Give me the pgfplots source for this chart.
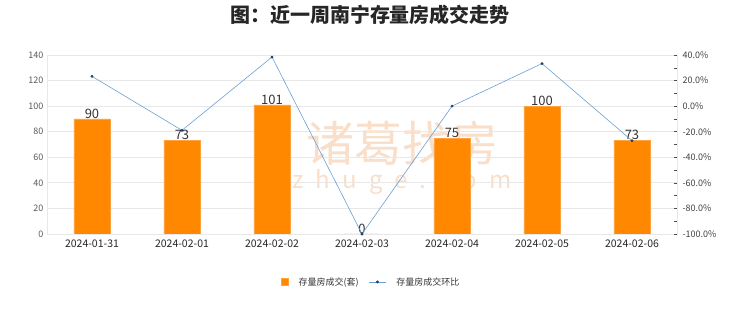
\documentclass[border=0pt]{standalone}
\usepackage{fontspec}
\setmainfont{Noto Sans CJK SC}
\usepackage{pgfplots}
\pgfplotsset{compat=1.18}
\definecolor{barc}{HTML}{FF8800}
\definecolor{barEdge}{HTML}{FFA340}
\definecolor{linec}{HTML}{6A9FD4}
\definecolor{markc}{HTML}{1F3F6F}
\definecolor{gridc}{HTML}{E8E8E8}
\definecolor{wm}{HTML}{F9DEC9}
\begin{document}
\begin{tikzpicture}[x=1pt,y=1pt]
% watermark (picture frame: origin at the axis' lower-left corner)
\node[font=\fontsize{48}{50}\selectfont, text=wm] at (355,91) {诸葛找房};
\node[font=\fontsize{24}{26}\selectfont, text=wm] at (355,52) {z\,\,\,h\,\,\,u\,\,\,g\,\,\,e\,\,\,.\,\,\,c\,\,\,o\,\,\,m};
\begin{axis}[
  at={(0,0)}, anchor=south west, scale only axis,
  width=630pt, height=179pt,
  xmin=-0.5, xmax=6.5, ymin=0, ymax=140, enlargelimits=false,
  ytick={0,20,...,140},
  xtick={0,...,6},
  xticklabels={2024-01-31,2024-02-01,2024-02-02,2024-02-03,2024-02-04,2024-02-05,2024-02-06},
  major tick length=0pt,
  ymajorgrids, grid style={draw=gridc, line width=0.8pt},
  axis line style={draw=gridc, line width=0.8pt},
  /pgf/number format/assume math mode=true,
  yticklabel style={font=\fontsize{9}{10}\selectfont, text=black!65},
  xticklabel style={font=\fontsize{10.5}{11}\selectfont, text=black!85, yshift=-2pt},
  ybar, bar width=36pt,
  nodes near coords,
  every node near coord/.append style={font=\fontsize{13}{14}\selectfont, text=black!80, yshift=-3pt},
]
\addplot[fill=barc, draw=barEdge, line width=0.5pt] coordinates {(0,90) (1,73) (2,101) (3,0) (4,75) (5,100) (6,73)};
\end{axis}
\begin{axis}[
  at={(0,0)}, anchor=south west, scale only axis,
  width=630pt, height=179pt,
  xmin=-0.5, xmax=6.5, ymin=-100, ymax=40, enlargelimits=false,
  axis x line=none, axis y line*=right,
  axis line style={draw=gridc, line width=0.8pt},
  ytick={-100,-80,...,40},
  yticklabels={-100.0\%,-80.0\%,-60.0\%,-40.0\%,-20.0\%,0.0\%,20.0\%,40.0\%},
  minor ytick={-90,-70,...,30},
  tick align=inside, major tick length=3pt, minor tick length=3pt,
  tick style={draw=black!70, line width=0.5pt},
  yticklabel style={font=\fontsize{9}{10}\selectfont, text=black!75, xshift=2pt},
  legend columns=2,
  legend style={at={(0.515,-0.268)}, anchor=center, draw=none, fill=none,
    font=\fontsize{9}{10}\selectfont, column sep=8pt, text=black!80},
  legend cell align=left,
]
\addlegendimage{only marks, mark=square*, mark size=3.5pt, mark options={fill=barc, draw=barEdge}}
\addlegendentry{存量房成交(套)}
\addplot[color=linec, line width=0.6pt, mark=*, mark size=1.1pt, mark options={fill=markc, draw=markc}] coordinates {(0,23.3) (1,-18.9) (2,38.4) (3,-100) (4,0) (5,33.3) (6,-27)};
\addlegendentry{存量房成交环比}
\end{axis}
\node[font=\fontsize{20}{22}\selectfont\bfseries, text=black!85] at (323,219) {图：近一周南宁存量房成交走势};
\pgfresetboundingbox
\path (-47,-78) rectangle (693,234);
\end{tikzpicture}
\end{document}
